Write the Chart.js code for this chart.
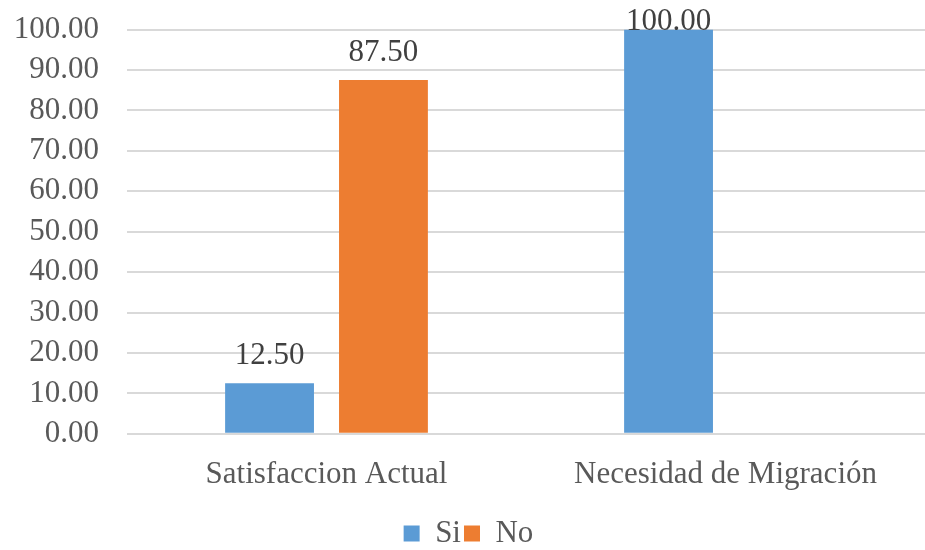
<!DOCTYPE html>
<html>
<head>
<meta charset="utf-8">
<script src="https://cdn.jsdelivr.net/npm/chart.js@4/dist/chart.umd.min.js"></script>
<style>
  html, body { margin: 0; padding: 0; background: #ffffff; }
  #wrap { width: 925px; height: 550px; }
</style>
</head>
<body>
<div id="wrap"><canvas id="chart" width="925" height="550"></canvas></div>
<script>
// Survey results, in percent
const categories = ['Satisfaccion Actual', 'Necesidad de Migración'];
const seriesNames = ['Si', 'No'];
const siValues = [12.5, 100];
const noValues = [87.5, null];
const yTicks = [0, 10, 20, 30, 40, 50, 60, 70, 80, 90, 100];

const FONT = "'Liberation Serif', 'Times New Roman', serif";
const TEXT = '#595959';
const SIZE = 31;

// Writes each bar's value above it
const valueLabels = {
  id: 'valueLabels',
  afterDatasetsDraw(chart) {
    const ctx = chart.ctx;
    ctx.save();
    ctx.font = SIZE + 'px ' + FONT;
    ctx.fillStyle = '#404040';
    ctx.textAlign = 'center';
    ctx.textBaseline = 'middle';
    chart.data.datasets.forEach((ds, di) => {
      const meta = chart.getDatasetMeta(di);
      meta.data.forEach((bar, i) => {
        const v = ds.data[i];
        if (v === null || v === undefined) return;
        const y = Math.max(bar.y - 27, 22);
        ctx.fillText(v.toFixed(2), bar.x, y);
      });
    });
    ctx.restore();
  }
};

new Chart(document.getElementById('chart'), {
  type: 'bar',
  data: {
    labels: categories,
    datasets: [
      { label: seriesNames[0], data: siValues, backgroundColor: '#5B9BD5',
        categoryPercentage: 0.571, barPercentage: 0.78 },
      { label: seriesNames[1], data: noValues, backgroundColor: '#ED7D31',
        categoryPercentage: 0.571, barPercentage: 0.78 }
    ]
  },
  options: {
    responsive: false,
    animation: false,
    layout: { padding: { left: 12, right: 0, top: 0, bottom: -9 } },
    plugins: {
      legend: {
        position: 'bottom',
        labels: {
          font: { family: FONT, size: SIZE },
          color: TEXT,
          boxWidth: 16,
          boxHeight: 16,
          padding: 3
        }
      },
      tooltip: { enabled: false }
    },
    scales: {
      x: {
        grid: { display: false, drawTicks: false },
        border: { display: false },
        ticks: { font: { family: FONT, size: SIZE }, color: TEXT, padding: 22 }
      },
      y: {
        min: 0,
        max: 100,
        afterBuildTicks(axis) { axis.ticks = yTicks.map(v => ({ value: v })); },
        afterFit(axis) { axis.width = 115; },
        grid: { color: '#d9d9d9', lineWidth: 2, drawTicks: false },
        border: { display: false },
        ticks: {
          font: { family: FONT, size: SIZE, lineHeight: 0.1 },
          color: TEXT,
          padding: 28,
          autoSkip: false,
          callback: v => Number(v).toFixed(2)
        }
      }
    }
  },
  plugins: [valueLabels]
});
</script>
</body>
</html>
